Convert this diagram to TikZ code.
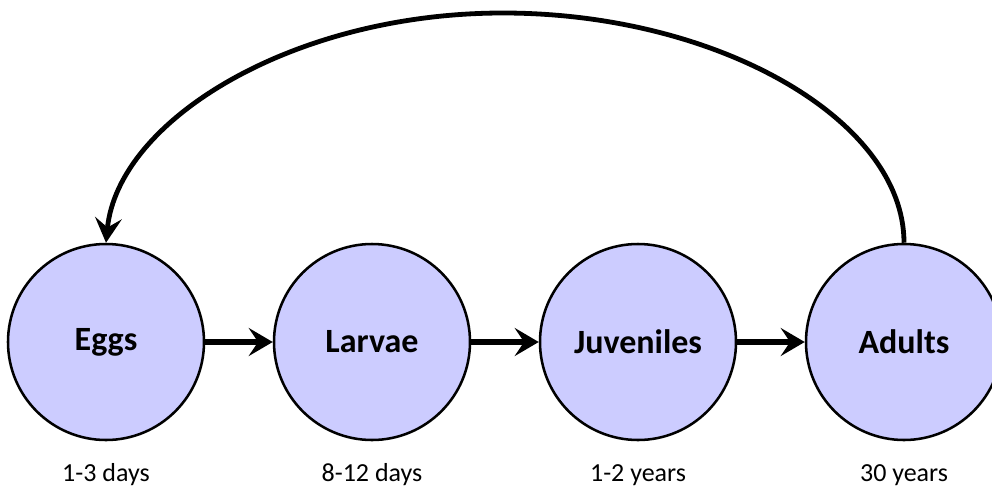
\documentclass[tikz,border=0pt]{standalone}
\usepackage{fontspec}
\setmainfont{Carlito}
\usetikzlibrary{arrows.meta}
\definecolor{stagefill}{RGB}{204,204,255}
\begin{document}
\begin{tikzpicture}[x=0.75pt,y=-0.75pt,
  stage/.style={circle,draw=black,line width=1.9pt,fill=stagefill,minimum size=147pt,inner sep=0pt,font=\fontsize{25.5}{28}\selectfont\bfseries},
  duration/.style={anchor=base,font=\fontsize{19.5}{22}\selectfont},
  flow/.style={line width=4.8pt,-{Stealth[length=18pt,width=21pt,inset=7pt]}},
  back/.style={line width=3.6pt,-{Stealth[length=18.5pt,width=20pt,inset=7pt]}}]
\useasboundingbox (0,0) rectangle (992,486);
\node[stage] (e) at (106,342) {Eggs};
\node[stage] (l) at (372,342) {Larvae};
\node[stage] (j) at (638,342) {Juveniles};
\node[stage] (a) at (904,342) {Adults};
\node[duration] (el) at (106,481) {1-3 days};
\node[duration] (ll) at (372,481) {8-12 days};
\node[duration] (jl) at (638,481) {1-2 years};
\node[duration] (al) at (904,481) {30 years};
\coordinate (top) at (503,13);
\draw[flow] (e.east) -- (l.west);
\draw[flow] (l.east) -- (j.west);
\draw[flow] (j.east) -- (a.west);
\draw[back] (a.north) .. controls (904,120) and (718,13) .. (top)
  .. controls (293,13) and (118,120) .. (e.north);
\end{tikzpicture}
\end{document}
